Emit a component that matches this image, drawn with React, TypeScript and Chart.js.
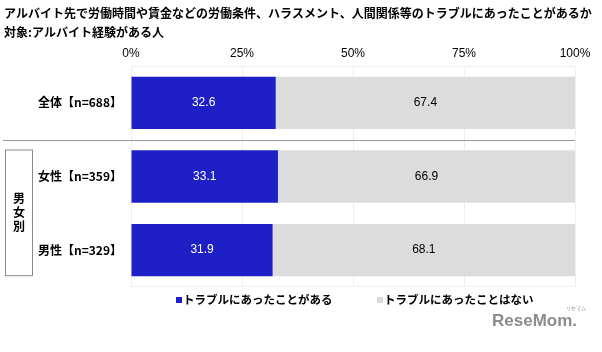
import React, { useEffect, useRef } from "react";
import { Chart, registerables } from "chart.js";

Chart.register(...registerables);

const titleLine1 = "アルバイト先で労働時間や賃金などの労働条件、ハラスメント、人間関係等のトラブルにあったことがあるか";
const titleLine2 = "対象:アルバイト経験がある人";
const categories = ["全体【n=688】", "女性【n=359】", "男性【n=329】"];
const seriesNames = ["トラブルにあったことがある", "トラブルにあったことはない"];
const hadTrouble = [32.6, 33.1, 31.9];
const noTrouble = [67.4, 66.9, 68.1];
const xTicks = [0, 25, 50, 75, 100];
const groupLabel = ["男", "女", "別"];
const colors = ["#1f1fc8", "#dcdcdc"];

const JP = '"Noto Sans CJK JP", "Noto Sans", sans-serif';
const LAT = '"Liberation Sans", Arial, sans-serif';

const decorPlugin = {
  id: "decor",
  afterDatasetsDraw(chart: any) {
    const ctx = chart.ctx;
    const area = chart.chartArea;
    const y = chart.scales.y;
    ctx.save();
    // faint frame lines top and bottom
    ctx.strokeStyle = "#efefef";
    ctx.lineWidth = 1;
    ctx.beginPath();
    ctx.moveTo(area.left, area.top + 0.5);
    ctx.lineTo(area.right, area.top + 0.5);
    ctx.moveTo(area.left, area.bottom - 0.5);
    ctx.lineTo(area.right, area.bottom - 0.5);
    ctx.stroke();
    // data labels
    chart.data.datasets.forEach((ds: any, di: number) => {
      const meta = chart.getDatasetMeta(di);
      meta.data.forEach((bar: any, i: number) => {
        const cx = (bar.x + bar.base) / 2;
        ctx.fillStyle = di === 0 ? "#ffffff" : "#000000";
        ctx.font = `12px ${LAT}`;
        ctx.textAlign = "center";
        ctx.textBaseline = "middle";
        ctx.fillText(ds.data[i].toFixed(1), cx, bar.y);
      });
    });
    // separator between total and gender rows
    const sepY = Math.round((y.getPixelForValue(0) + y.getPixelForValue(1)) / 2) + 0.5;
    ctx.strokeStyle = "#9a9a9a";
    ctx.beginPath();
    ctx.moveTo(3, sepY);
    ctx.lineTo(area.right, sepY);
    ctx.stroke();
    // group box
    const y1 = y.getPixelForValue(1);
    const y2 = y.getPixelForValue(2);
    const boxTop = y1 - 27;
    const boxBottom = y2 + 25;
    ctx.strokeStyle = "#8a8a8a";
    ctx.strokeRect(5.5, boxTop + 0.5, 27, boxBottom - boxTop);
    ctx.fillStyle = "#000";
    ctx.font = `bold 12px ${JP}`;
    ctx.textAlign = "center";
    ctx.textBaseline = "middle";
    const mid = (boxTop + boxBottom) / 2;
    groupLabel.forEach((ch, k) => {
      ctx.fillText(ch, 19, mid + (k - 1) * 14);
    });
    // title
    ctx.textAlign = "left";
    ctx.textBaseline = "middle";
    ctx.font = `bold 12px ${JP}`;
    ctx.fillText(titleLine1, 4, 13);
    ctx.fillText(titleLine2, 4, 32);
    // legend
    const legendX = [176, 377];
    ctx.font = `bold 11.5px ${JP}`;
    seriesNames.forEach((name, k) => {
      ctx.fillStyle = colors[k];
      ctx.fillRect(legendX[k], 297, 6, 6);
      ctx.fillStyle = "#000";
      ctx.fillText(name, legendX[k] + 7, 300);
    });
    // logo
    ctx.fillStyle = "#8c8c8c";
    ctx.font = `bold 17px ${LAT}`;
    ctx.textBaseline = "alphabetic";
    ctx.fillText("ReseMom.", 492, 326);
    ctx.font = `5px ${JP}`;
    ctx.fillText("リセマム", 566, 310);
    ctx.restore();
  },
};

export default function App() {
  const ref = useRef<HTMLCanvasElement>(null);
  useEffect(() => {
    if (!ref.current) return;
    const chart = new Chart(ref.current, {
      type: "bar",
      data: {
        labels: categories,
        datasets: [
          { label: seriesNames[0], data: hadTrouble, backgroundColor: colors[0], barPercentage: 0.71, categoryPercentage: 1 },
          { label: seriesNames[1], data: noTrouble, backgroundColor: colors[1], barPercentage: 0.71, categoryPercentage: 1 },
        ],
      },
      options: {
        indexAxis: "y",
        animation: false,
        responsive: true,
        maintainAspectRatio: false,
        layout: { padding: { top: 44, right: 27, bottom: 65, left: 0 } },
        plugins: {
          legend: { display: false },
          title: { display: false },
          tooltip: { enabled: false },
        },
        scales: {
          x: {
            position: "top",
            stacked: true,
            min: 0,
            max: 100,
            afterFit: (s: any) => { s.height = 22; },
            afterBuildTicks: (s: any) => { s.ticks = xTicks.map((v) => ({ value: v })); },
            ticks: {
              color: "#000",
              font: { family: LAT, size: 12 },
              padding: 5,
              callback: (v: any) => `${v}%`,
            },
            grid: { color: "#efefef", drawTicks: false },
            border: { display: false },
          },
          y: {
            stacked: true,
            afterFit: (s: any) => { s.width = 131; },
            ticks: {
              color: "#000",
              font: { family: JP, size: 12, weight: "bold" },
              padding: 1,
            },
            grid: { display: false },
            border: { color: "#efefef" },
          },
        },
      },
      plugins: [decorPlugin],
    });
    return () => chart.destroy();
  }, []);
  return (
    <div style={{ position: "absolute", left: 0, top: 0, width: 602, height: 352, background: "#fff" }}>
      <canvas ref={ref} />
    </div>
  );
}
